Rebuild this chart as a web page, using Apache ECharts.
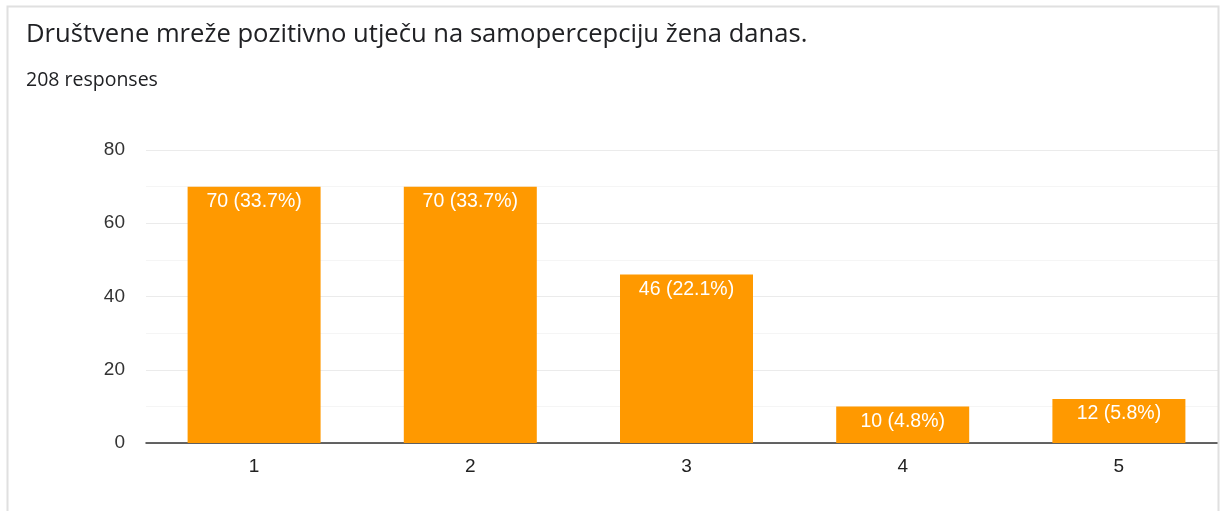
<!DOCTYPE html>
<html><head><meta charset="utf-8">
<script src="https://cdn.jsdelivr.net/npm/echarts@6/dist/echarts.min.js"></script>
<style>html,body{margin:0;padding:0;background:#fff}#c{width:1221px;height:511px}</style>
</head><body><div id="c"></div>
<script>
const categories = ['1', '2', '3', '4', '5'];
const counts = [70, 70, 46, 10, 12];
const percents = ['33.7%', '33.7%', '22.1%', '4.8%', '5.8%'];
const yTicks = [0, 20, 40, 60, 80];
const titleText = 'Društvene mreže pozitivno utječu na samopercepciju žena danas.';
const subtitleText = '208 responses';

const chart = echarts.init(document.getElementById('c'), null, {renderer: 'canvas'});
chart.setOption({
  animation: false,
  title: [
    {text: titleText, left: 21, top: 17, textStyle: {fontFamily: 'Open Sans', fontSize: 25.6, fontWeight: 'normal', color: '#202124'}},
    {text: subtitleText, left: 21, top: 65, textStyle: {fontFamily: 'Open Sans', fontSize: 19.5, fontWeight: 'normal', color: '#202124'}}
  ],
  graphic: [{
    type: 'rect', z: 99, silent: true,
    shape: {x: 1219, y: 0, width: 10, height: 511},
    style: {fill: '#fff'}
  }, {
    type: 'rect', z: 100, silent: true,
    shape: {x: 7.5, y: 6.5, width: 1211, height: 520},
    style: {fill: 'none', stroke: '#e0e0e0', lineWidth: 2}
  }],
  grid: {left: 146, top: 150, width: 1081, height: 293, containLabel: false, outerBoundsMode: 'none'},
  xAxis: {
    type: 'category', data: categories,
    axisLine: {lineStyle: {color: '#333', width: 1.5}},
    axisTick: {show: false},
    axisLabel: {fontFamily: 'Liberation Sans', fontSize: 19, color: '#222', margin: 14}
  },
  yAxis: {
    type: 'value', min: yTicks[0], max: yTicks[yTicks.length - 1], interval: 20,
    axisLine: {show: false}, axisTick: {show: false},
    axisLabel: {fontFamily: 'Liberation Sans', fontSize: 19, color: '#333', margin: 21},
    splitLine: {lineStyle: {color: '#ebebeb', width: 1}},
    minorTick: {show: false, splitNumber: 2},
    minorSplitLine: {show: true, lineStyle: {color: '#f5f5f5', width: 1}}
  },
  series: [{
    type: 'bar', data: counts, barWidth: 133,
    itemStyle: {color: '#ff9900'},
    label: {
      show: true, position: 'insideTop', distance: 5,
      fontFamily: 'Liberation Sans', fontSize: 19.5, color: '#fff',
      formatter: p => p.value + ' (' + percents[p.dataIndex] + ')'
    }
  }]
});
</script></body></html>
